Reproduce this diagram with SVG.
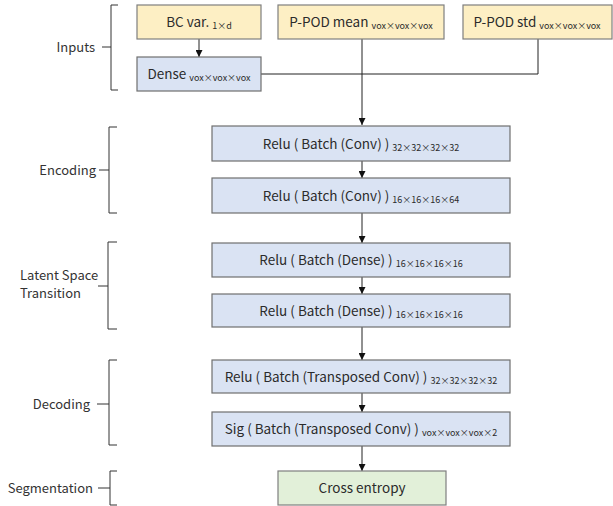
<svg xmlns="http://www.w3.org/2000/svg" width="613" height="506" viewBox="0 0 613 506">
<defs>
<marker id="ah" viewBox="0 0 10 10" refX="10" refY="5" markerWidth="7" markerHeight="7" markerUnits="userSpaceOnUse" orient="auto">
<path d="M0,0 L10,5 L0,10 z" fill="#111"/>
</marker>
<style>
.y{fill:#fdefc4;stroke:#7f7f7f;stroke-width:1.2}
.b{fill:#dae3f3;stroke:#6f6f6f;stroke-width:1.2}
.g{fill:#e2f0d9;stroke:#7f7f7f;stroke-width:1.2}
.t{font-family:"Noto Sans CJK SC","Noto Sans",sans-serif;font-size:13.5px;fill:#2b2b2b;text-anchor:middle}
.s{font-size:9px}
.l{font-family:"Noto Sans CJK SC","Noto Sans",sans-serif;font-size:13px;fill:#333;text-anchor:end}
.c{fill:none;stroke:#222;stroke-width:1}
.br{fill:none;stroke:#333;stroke-width:1}
</style>
</defs>
<g id="connectors">
<path class="c" d="M199,39 V57" marker-end="url(#ah)"/>
<path class="c" d="M261,74 H538 V39"/>
<path class="c" d="M362,39 V125" marker-end="url(#ah)"/>
<path class="c" d="M362,161 V178" marker-end="url(#ah)"/>
<path class="c" d="M362,213 V243" marker-end="url(#ah)"/>
<path class="c" d="M362,277 V294" marker-end="url(#ah)"/>
<path class="c" d="M362,327 V360" marker-end="url(#ah)"/>
<path class="c" d="M362,393 V412" marker-end="url(#ah)"/>
<path class="c" d="M362,446 V471" marker-end="url(#ah)"/>
</g>
<g id="bc">
<rect class="y" x="137" y="5" width="124" height="34"/>
<text class="t" x="199" y="27">BC var. <tspan class="s" dy="2">1×d</tspan></text>
</g>
<g id="ppodmean">
<rect class="y" x="278" y="5" width="166" height="34"/>
<text class="t" x="361" y="27">P-POD mean <tspan class="s" dy="2">vox×vox×vox</tspan></text>
</g>
<g id="ppodstd">
<rect class="y" x="463" y="5" width="149" height="34"/>
<text class="t" x="537" y="27">P-POD std <tspan class="s" dy="2">vox×vox×vox</tspan></text>
</g>
<g id="dense">
<rect class="b" x="137" y="57" width="124" height="34"/>
<text class="t" x="199" y="79">Dense <tspan class="s" dy="2">vox×vox×vox</tspan></text>
</g>
<g id="enc1">
<rect class="b" x="212" y="126" width="298" height="35"/>
<text class="t" x="361" y="149">Relu ( Batch (Conv) ) <tspan class="s" dy="2">32×32×32×32</tspan></text>
</g>
<g id="enc2">
<rect class="b" x="212" y="178" width="298" height="35"/>
<text class="t" x="361" y="201">Relu ( Batch (Conv) ) <tspan class="s" dy="2">16×16×16×64</tspan></text>
</g>
<g id="lat1">
<rect class="b" x="212" y="243" width="298" height="34"/>
<text class="t" x="361" y="265">Relu ( Batch (Dense) ) <tspan class="s" dy="2">16×16×16×16</tspan></text>
</g>
<g id="lat2">
<rect class="b" x="212" y="294" width="298" height="33"/>
<text class="t" x="361" y="316">Relu ( Batch (Dense) ) <tspan class="s" dy="2">16×16×16×16</tspan></text>
</g>
<g id="dec1">
<rect class="b" x="212" y="360" width="298" height="33"/>
<text class="t" x="361" y="382">Relu ( Batch (Transposed Conv) ) <tspan class="s" dy="2">32×32×32×32</tspan></text>
</g>
<g id="dec2">
<rect class="b" x="212" y="412" width="298" height="34"/>
<text class="t" x="361" y="434">Sig ( Batch (Transposed Conv) ) <tspan class="s" dy="2">vox×vox×vox×2</tspan></text>
</g>
<g id="ce">
<rect class="g" x="278" y="471" width="168" height="34"/>
<text class="t" x="362" y="493">Cross entropy</text>
</g>
<g id="labels">
<path class="br" d="M118,5 H111 V47 H102 M111,47 V90 H118"/>
<text class="l" x="95" y="52">Inputs</text>
<path class="br" d="M117,127 H109 V170 H99 M109,170 V213 H117"/>
<text class="l" x="96" y="175">Encoding</text>
<path class="br" d="M117,242 H108 V286 H98 M108,286 V329 H117"/>
<text class="l" x="20" y="280" style="text-anchor:start">Latent Space</text>
<text class="l" x="20" y="298" style="text-anchor:start">Transition</text>
<path class="br" d="M117,360 H109 V404 H97 M109,404 V445 H117"/>
<text class="l" x="90" y="409">Decoding</text>
<path class="br" d="M117,471 H110 V488 H98 M110,488 V505 H117"/>
<text class="l" x="93" y="493">Segmentation</text>
</g>
</svg>
